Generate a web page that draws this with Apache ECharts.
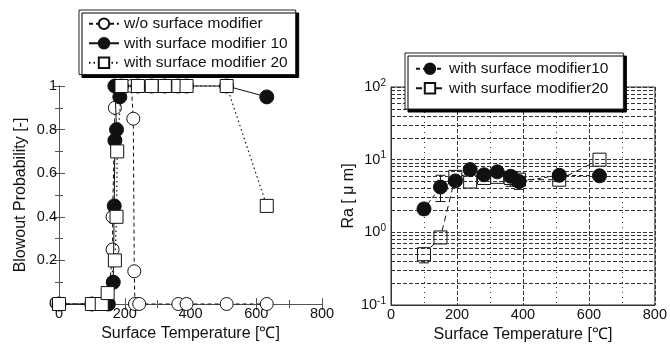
<!DOCTYPE html>
<html><head><meta charset="utf-8">
<script src="https://cdn.jsdelivr.net/npm/echarts@6/dist/echarts.min.js"></script>
<style>html,body{margin:0;padding:0;background:#fff}#c{width:670px;height:350px}</style>
</head><body><div id="c"></div>
<script>
// ---- Left chart: blowout probability vs surface temperature ----
const woX  = [0,130,150,163,163,170,172,220,226,229,231,244,363,388,510,632];
const woY  = [0,0,0,0.25,0.4,0.9,1,1,0.85,0.15,0,0,0,0,0,0];
const m10X = [0,100,150,165,168,170,175,170,185,190,240,282,322,363,388,510,632];
const m10Y = [0,0,0,0.1,0.45,0.75,0.8,1,0.95,1,1,1,1,1,1,1,0.95];
const m20X = [0,100,130,148,170,175,177,190,240,282,322,363,388,510,632];
const m20Y = [0,0,0,0.05,0.2,0.4,0.7,1,1,1,1,1,1,1,0.45];
// ---- Right chart: Ra vs surface temperature ----
const raX10  = [100,150,195,240,282,322,363,388,510,632];
const ra10   = [2.1,4.2,5.1,7.3,6.2,6.8,5.9,5.0,6.1,6.0];
const ra10Lo = [1.75,2.65,4.6,6.3,5.4,5.9,5.2,4.3,5.4,5.5];
const ra10Hi = [2.5,6.1,5.6,8.0,6.9,7.6,6.5,5.7,6.8,6.5];
const raX20  = [100,150,195,240,282,322,363,388,510,632];
const ra20   = [0.5,0.85,5.8,5.0,5.6,5.8,5.6,5.3,5.3,10];
const ra20Lo = [0.38,0.75,5.0,4.5,4.8,5.0,4.3,3.9,4.5,9.2];
const ra20Hi = [0.6,0.95,6.8,5.5,6.4,6.6,6.5,6.0,6.0,10.8];
// names / labels
const leftNames  = ['w/o surface modifier','with surface modifier 10','with surface modifier 20'];
const rightNames = ['with surface modifier10','with surface modifier20'];
const xName = 'Surface Temperature [℃]';
const yNameL = 'Blowout Probability [-]';
const yNameR = 'Ra [ μ m]';

const FONT = "'Liberation Sans', Arial, sans-serif";
const INK = '#111';
const AX = '#555';
const TICK = 14.5, NAME = 16, LEG = 15.5;

function zip(a,b){ return a.map((v,i)=>[v,b[i]]); }

const gridVals = [];
for (let d=-1; d<=1; d++) for (let k=1;k<=9;k++) gridVals.push(+(k*Math.pow(10,d)).toPrecision(3));
gridVals.push(100);

function errRender(params, api){
  const x = api.value(0), l = api.value(1), h = api.value(2);
  const p1 = api.coord([x,l]), p2 = api.coord([x,h]);
  const w = 5, st = {stroke:INK, lineWidth:1};
  return {type:'group', children:[
    {type:'line', shape:{x1:p1[0],y1:p1[1],x2:p2[0],y2:p2[1]}, style:st},
    {type:'line', shape:{x1:p1[0]-w,y1:p1[1],x2:p1[0]+w,y2:p1[1]}, style:st},
    {type:'line', shape:{x1:p2[0]-w,y1:p2[1],x2:p2[0]+w,y2:p2[1]}, style:st}
  ]};
}

const tickAxisCommon = {
  axisLine:{show:true, lineStyle:{color:AX, width:1}},
  axisTick:{show:true, inside:true, length:6, lineStyle:{color:AX}},
  minorTick:{show:true, splitNumber:2, length:4, lineStyle:{color:AX}},
  splitLine:{show:false}
};

const chart = echarts.init(document.getElementById('c'), null, {renderer:'canvas'});
chart.setOption({
  animation:false,
  backgroundColor:'#fff',
  textStyle:{fontFamily:FONT, color:INK},
  grid:[
    {left:59, top:86, width:263, height:218, containLabel:false},
    {left:391, top:87, width:266, height:218, containLabel:false, show:true, borderColor:'#333', borderWidth:1}
  ],
  legend:[
    {data:leftNames, orient:'vertical', left:79, top:10, itemWidth:30, itemHeight:13, itemGap:0,
     padding:[4,8,2,9], backgroundColor:'#fff', borderColor:'#222', borderWidth:1,
     shadowColor:'#000', shadowBlur:0, shadowOffsetX:3, shadowOffsetY:3,
     textStyle:{fontFamily:FONT, fontSize:LEG, color:INK, lineHeight:19.5}, selectedMode:false},
    {data:rightNames, orient:'vertical', left:405, top:53, itemWidth:28, itemHeight:13, itemGap:0,
     padding:[6,15,11,10], backgroundColor:'#fff', borderColor:'#222', borderWidth:1,
     shadowColor:'#000', shadowBlur:0, shadowOffsetX:3, shadowOffsetY:3,
     textStyle:{fontFamily:FONT, fontSize:LEG, color:INK, lineHeight:19.5}, selectedMode:false, z:20}
  ],
  xAxis:[
    Object.assign({gridIndex:0, type:'value', min:0, max:800, interval:200, position:'bottom',
      name:xName, nameLocation:'middle', nameGap:17, nameTextStyle:{fontSize:NAME, color:INK, fontFamily:FONT},
      axisLabel:{fontSize:TICK, color:INK, margin:2, fontFamily:FONT}}, tickAxisCommon),
    Object.assign({gridIndex:0, type:'value', min:0, max:800, interval:200, position:'top',
      axisLabel:{show:false}}, tickAxisCommon),
    {gridIndex:1, type:'value', min:0, max:800, interval:200,
      name:xName, nameLocation:'middle', nameGap:20, nameTextStyle:{fontSize:NAME, color:INK, fontFamily:FONT},
      axisLine:{show:true, lineStyle:{color:'#333'}}, axisTick:{show:false},
      axisLabel:{fontSize:TICK, color:INK, margin:2, fontFamily:FONT},
      minorTick:{show:false, splitNumber:2},
      splitLine:{show:true, lineStyle:{color:'#333', type:[4,2], width:1}},
      minorSplitLine:{show:true, lineStyle:{color:'#333', type:[1,4], width:1}}}
  ],
  yAxis:[
    Object.assign({gridIndex:0, type:'value', min:0, max:1, interval:0.2, position:'left',
      name:yNameL, nameLocation:'middle', nameGap:30, nameTextStyle:{fontSize:NAME, color:INK, fontFamily:FONT},
      axisLabel:{fontSize:TICK, color:INK, margin:2, fontFamily:FONT,
        formatter:v=> v===0?'0':(v===1?'1':v.toFixed(1))}}, tickAxisCommon),
    Object.assign({gridIndex:0, type:'value', min:0, max:1, interval:0.2, position:'right',
      axisLabel:{show:false}}, tickAxisCommon),
    {gridIndex:1, type:'log', logBase:10, min:0.1, max:100,
      name:yNameR, nameLocation:'middle', nameGap:34, nameTextStyle:{fontSize:NAME, color:INK, fontFamily:FONT},
      axisLine:{show:true, lineStyle:{color:'#333'}}, axisTick:{show:false}, splitLine:{show:false},
      axisLabel:{margin:5, color:INK, fontFamily:FONT,
        formatter:v=> '{b|10}{s|' + Math.round(Math.log10(v)) + '}',
        rich:{b:{fontSize:TICK, fontFamily:FONT, color:INK}, s:{fontSize:10, fontFamily:FONT, color:INK, verticalAlign:'top', padding:[0,0,8,0]}}}}
  ],
  series:[
    {name:leftNames[0], type:'line', xAxisIndex:0, yAxisIndex:0, data:zip(woX,woY), clip:false,
     symbol:'circle', symbolSize:13, z:3,
     itemStyle:{color:'#fff', borderColor:INK, borderWidth:1},
     lineStyle:{color:INK, width:1, type:[4,3]}},
    {name:leftNames[1], type:'line', xAxisIndex:0, yAxisIndex:0, data:zip(m10X,m10Y), clip:false,
     symbol:'circle', symbolSize:14, z:4,
     itemStyle:{color:INK, borderColor:INK, borderWidth:1},
     lineStyle:{color:INK, width:1, type:'solid'}},
    {name:leftNames[2], type:'line', xAxisIndex:0, yAxisIndex:0, data:zip(m20X,m20Y), clip:false,
     symbol:'rect', symbolSize:13, z:5,
     itemStyle:{color:'#fff', borderColor:INK, borderWidth:1},
     lineStyle:{color:INK, width:1.2, type:[1.5,3]}},
    // gridlines of the log axis
    {type:'line', xAxisIndex:2, yAxisIndex:2, data:[], z:1, silent:true,
     markLine:{silent:true, symbol:['none','none'], label:{show:false}, animation:false,
       lineStyle:{color:'#333', type:[4,2], width:1}, emphasis:{disabled:true},
       data:gridVals.map(v=>({yAxis:v}))}},
    {type:'custom', xAxisIndex:2, yAxisIndex:2, renderItem:errRender, z:3, silent:true,
     encode:{x:0, y:[1,2]}, data:raX20.map((x,i)=>[x,ra20Lo[i],ra20Hi[i]])},
    {name:rightNames[1], type:'line', xAxisIndex:2, yAxisIndex:2, data:zip(raX20,ra20), clip:false,
     symbol:'rect', symbolSize:13, z:4,
     itemStyle:{color:'#fff', borderColor:INK, borderWidth:1},
     lineStyle:{color:INK, width:1, type:[6,4]}},
    {type:'custom', xAxisIndex:2, yAxisIndex:2, renderItem:errRender, z:5, silent:true,
     encode:{x:0, y:[1,2]}, data:raX10.map((x,i)=>[x,ra10Lo[i],ra10Hi[i]])},
    {name:rightNames[0], type:'line', xAxisIndex:2, yAxisIndex:2, data:zip(raX10,ra10), clip:false,
     symbol:'circle', symbolSize:14, z:6,
     itemStyle:{color:INK, borderColor:INK, borderWidth:1},
     lineStyle:{color:INK, width:1, type:[4,3]}}
  ]
});
</script>
</body></html>
